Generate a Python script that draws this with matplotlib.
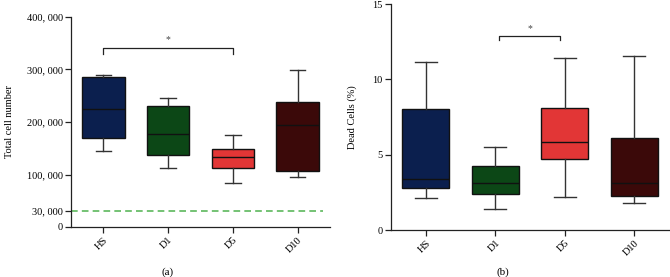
import matplotlib
matplotlib.use("Agg")
import matplotlib.pyplot as plt
from matplotlib.ticker import FuncFormatter

plt.rcParams['font.family'] = ['Liberation Serif', 'DejaVu Serif']

groups = ["HS", "D1", "D5", "D10"]
colors = ["#0b1f4e", "#0c4716", "#e23636", "#3b0909"]

# Panel (a): total cell number
a_whislo = [144000, 112000, 84000, 95000]
a_q1 = [170000, 136500, 112000, 107000]
a_med = [224000, 176500, 134000, 194000]
a_q3 = [285500, 230000, 148000, 239000]
a_whishi = [290000, 245000, 176000, 298500]
a_threshold = 30000
a_yticks = [0, 30000, 100000, 200000, 300000, 400000]

# Panel (b): dead cells (%)
b_whislo = [2.12, 1.37, 2.21, 1.77]
b_q1 = [2.79, 2.41, 4.73, 2.23]
b_med = [3.40, 3.12, 5.82, 3.12]
b_q3 = [8.00, 4.27, 8.12, 6.10]
b_whishi = [11.13, 5.53, 11.39, 11.55]
b_yticks = [0, 5, 10, 15]

fig = plt.figure(figsize=(6.7, 2.77), dpi=100)
axa = fig.add_axes([71/670, 1-227/277, 259/670, 210/277])
axb = fig.add_axes([391/670, 1-230/277, 278/670, 226/277])


def draw(ax, lo, q1, med, q3, hi, width, capw):
    stats = [dict(whislo=l, q1=a, med=m, q3=b, whishi=h, fliers=[])
             for l, a, m, b, h in zip(lo, q1, med, q3, hi)]
    pos = list(range(len(groups)))
    bp = ax.bxp(stats, positions=pos, widths=width, patch_artist=True,
                showfliers=False, capwidths=capw,
                boxprops=dict(linewidth=1.0, edgecolor="#111111"),
                medianprops=dict(color="#111111", linewidth=1.0),
                whiskerprops=dict(color="#333333", linewidth=1.0),
                capprops=dict(color="#333333", linewidth=1.0))
    for patch, c in zip(bp['boxes'], colors):
        patch.set_facecolor(c)
    ax.set_xticks(pos)
    ax.set_xticklabels(groups, rotation=45, ha='right', rotation_mode='anchor', fontsize=7.5)
    ax.set_xlim(-0.5, 3.5)
    for s in ['top', 'right']:
        ax.spines[s].set_visible(False)
    for s in ['left', 'bottom']:
        ax.spines[s].set_color("#222222")
        ax.spines[s].set_linewidth(0.9)
    ax.tick_params(axis='both', length=4, width=0.9, color="#222222", labelsize=7.5, pad=2)


draw(axa, a_whislo, a_q1, a_med, a_q3, a_whishi, 0.66, 0.24)
axa.set_ylim(0, 400000)
axa.set_yticks(a_yticks)
axa.yaxis.set_major_formatter(FuncFormatter(lambda v, p: "0" if v == 0 else f"{int(v):,}".replace(",", ", ")))
axa.axhline(a_threshold, xmin=0, xmax=0.973, color="#5cb85c", linestyle=(0, (4, 2.5)), linewidth=1.2)
axa.set_ylabel("Total cell number", fontsize=7.5, labelpad=9)
# significance bracket HS vs D5
axa.plot([0, 0, 2, 2], [329000, 340000, 340000, 329000], color="#222222", linewidth=0.9)
axa.text(1.0, 356000, "*", ha='center', va='center', fontsize=7, color="#444444")

draw(axb, b_whislo, b_q1, b_med, b_q3, b_whishi, 0.68, 0.32)
axb.set_ylim(0, 15)
axb.set_yticks(b_yticks)
axb.set_ylabel("Dead Cells (%)", fontsize=7.5, labelpad=11)
axb.plot([1.06, 1.06, 1.93, 1.93], [12.6, 12.85, 12.85, 12.6], color="#222222", linewidth=0.9)
axb.text(1.5, 13.35, "*", ha='center', va='center', fontsize=7, color="#444444")

fig.text(167.5/670, 1-272/277, "(a)", ha='center', va='center', fontsize=8)
fig.text(502.5/670, 1-272/277, "(b)", ha='center', va='center', fontsize=8)

fig.savefig("out.png", dpi=100)
